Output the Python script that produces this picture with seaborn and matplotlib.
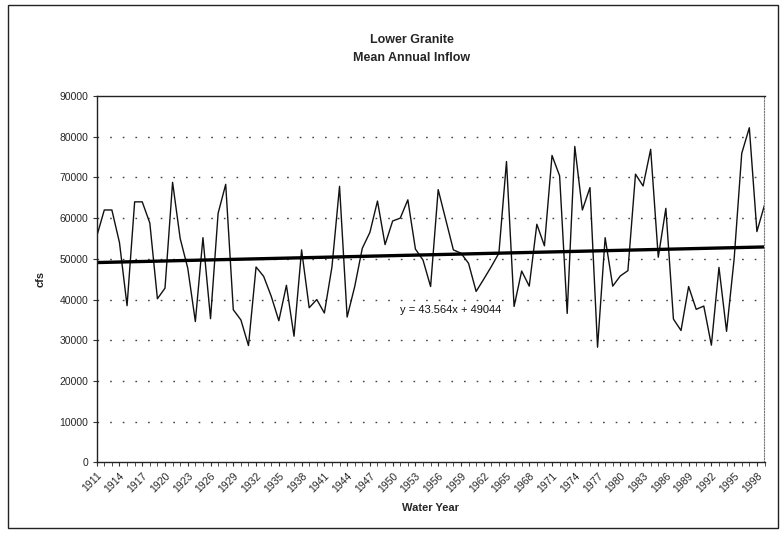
import numpy as np
import pandas as pd
import matplotlib
matplotlib.use("Agg")
import matplotlib.pyplot as plt
import seaborn as sns

# ---- data ----
years = list(range(1911, 2000))
inflow_cfs = [
    55500, 62000, 62000, 54000, 38500, 64000, 64000, 58800, 40200, 42800,
    68800, 55000, 47700, 34600, 55200, 35300, 61200, 68300, 37500, 35000,
    28700, 48000, 45700, 40800, 34800, 43500, 31000, 52200, 38000, 40000,
    36700, 48000, 67800, 35700, 43200, 52600, 56500, 64200, 53500, 59300,
    60000, 64500, 52400, 49700, 43200, 67000, 59600, 52200, 51400, 48900,
    42000, 45000, 48100, 51400, 73900, 38300, 47000, 43300, 58500, 53200,
    75400, 70400, 36600, 77600, 62000, 67500, 28300, 55200, 43300, 45800,
    47100, 70800, 67900, 76900, 50400, 62400, 35200, 32400, 43200, 37600,
    38400, 28800, 47900, 32200, 50000, 75900, 82200, 56700, 63200,
]
trend_slope = 43.564
trend_intercept = 49044
y_ticks = list(range(0, 90001, 10000))
x_tick_years = list(range(1911, 2000, 3))
title_lines = ["Lower Granite", "Mean Annual Inflow"]
x_label = "Water Year"
y_label = "cfs"
equation_text = "y = 43.564x + 49044"

df = pd.DataFrame({"year": years, "cfs": inflow_cfs})
df["index"] = np.arange(1, len(df) + 1)
df["trend"] = trend_slope * df["index"] + trend_intercept

sns.set_theme(style="white")
plt.rcParams["font.family"] = ["Liberation Sans", "DejaVu Sans"]

W, H = 782, 542
fig = plt.figure(figsize=(W / 100, H / 100), dpi=100)
L, R, T, B = 96.7, 764.5, 96.0, 462.4
ax = fig.add_axes([L / W, 1 - B / H, (R - L) / W, (B - T) / H])

sns.lineplot(data=df, x="year", y="cfs", ax=ax, color="#111111", linewidth=1.0)
sns.lineplot(data=df, x="year", y="trend", ax=ax, color="#000000", linewidth=2.4)

ax.set_xlim(1911, 1999)
ax.set_ylim(0, 90000)
ax.set_yticks(y_ticks)
ax.set_yticklabels([str(v) for v in y_ticks], fontsize=7.5)
ax.set_xticks(x_tick_years)
ax.set_xticklabels([str(v) for v in x_tick_years], rotation=45, ha="right",
                   rotation_mode="anchor", fontsize=7.5)
ax.set_xticks(years, minor=True)
ax.tick_params(axis="both", which="major", direction="out", length=3, width=0.8,
               color="#333333", pad=3)
ax.tick_params(axis="x", which="minor", direction="out", length=3, width=0.6,
               color="#333333", bottom=True)
ax.tick_params(axis="y", which="major", left=True)
ax.tick_params(axis="x", which="major", bottom=True)

for v in y_ticks[1:-1]:
    ax.axhline(v, color="#444444", linewidth=1.0, linestyle=(0, (1.2, 7.9)), zorder=0)

for side in ["left", "bottom", "top"]:
    ax.spines[side].set_visible(True)
    ax.spines[side].set_color("#222222")
    ax.spines[side].set_linewidth(1.0)
ax.spines["right"].set_visible(True)
ax.spines["right"].set_color("#777777")
ax.spines["right"].set_linewidth(0.8)
ax.spines["right"].set_linestyle((0, (1, 1.5)))

ax.set_xlabel(x_label, fontsize=8, fontweight="bold", labelpad=6)
ax.set_ylabel(y_label, fontsize=8, fontweight="bold", labelpad=10)

ax.text(1951.0, 37400, equation_text, fontsize=8, ha="left", va="center",
        color="#111111")

fig.text(412 / W, 1 - 40 / H, title_lines[0], ha="center", va="center",
         fontsize=9, fontweight="bold")
fig.text(412 / W, 1 - 58 / H, title_lines[1], ha="center", va="center",
         fontsize=9, fontweight="bold")

border = plt.Rectangle((8 / W, 1 - 528 / H), 770 / W, 523 / H, transform=fig.transFigure,
                       fill=False, edgecolor="#222222", linewidth=1.0)
fig.patches.append(border)

fig.savefig("out.png", dpi=100, facecolor="white")
